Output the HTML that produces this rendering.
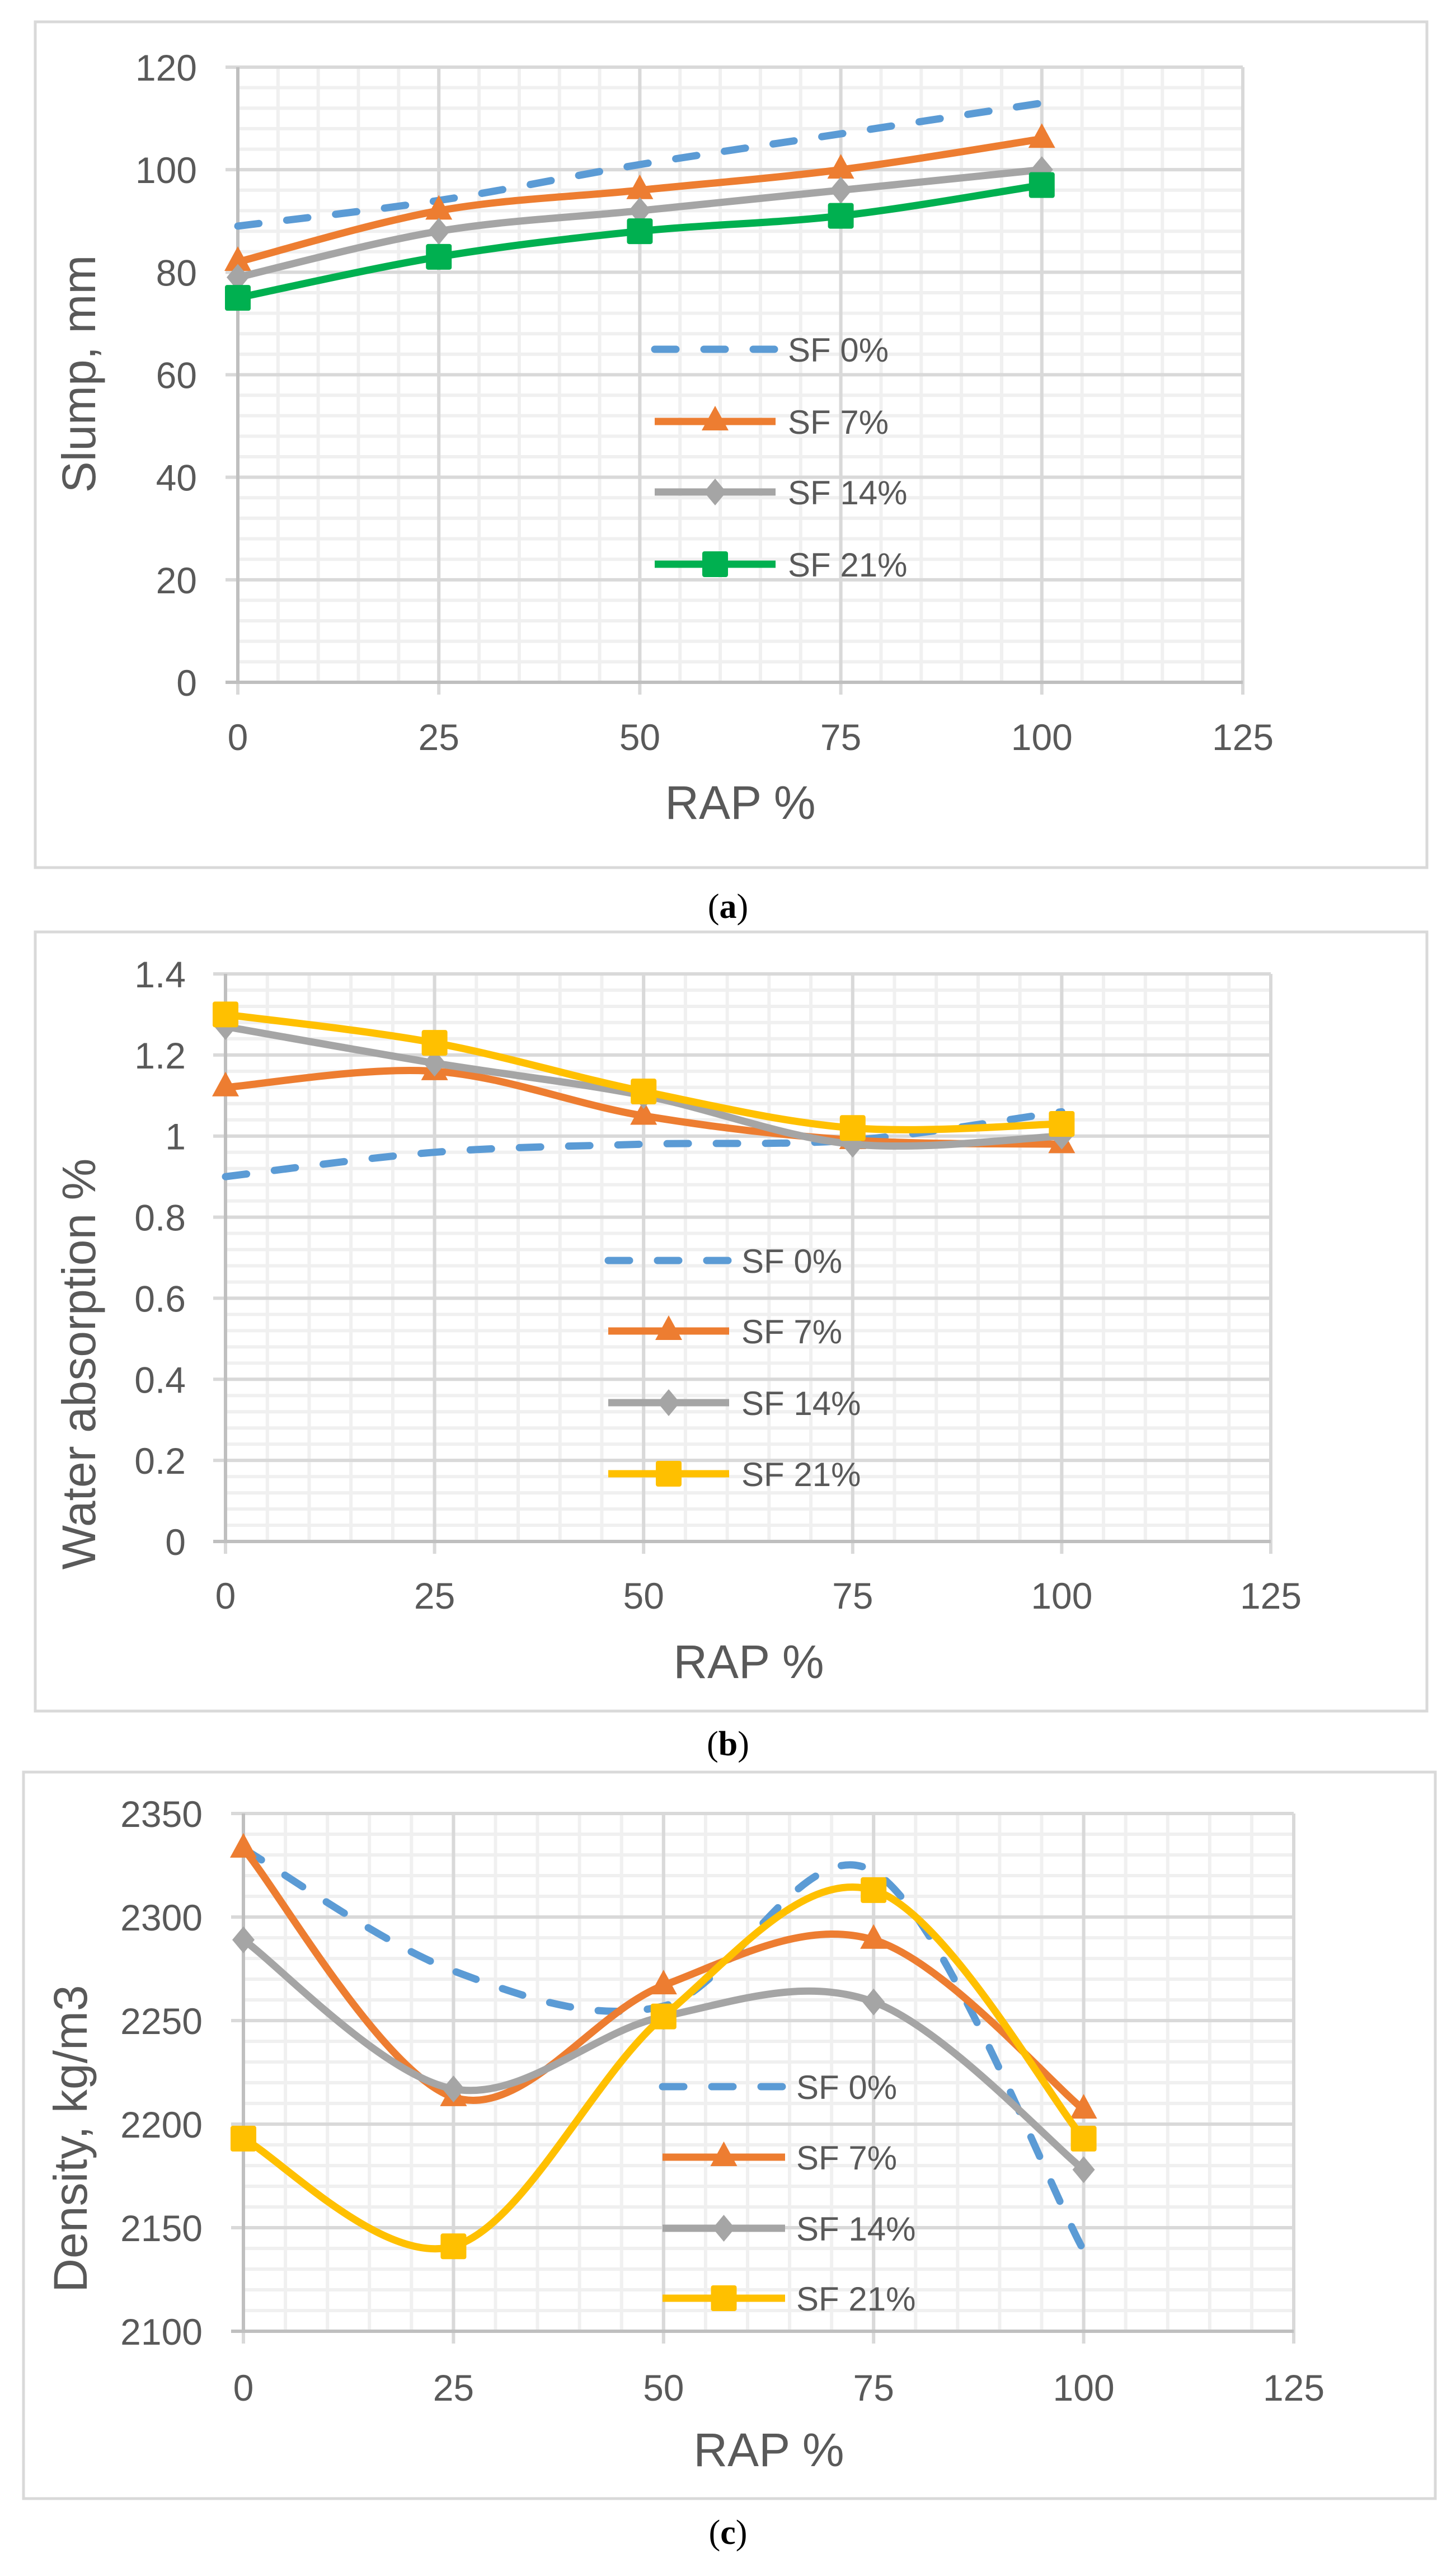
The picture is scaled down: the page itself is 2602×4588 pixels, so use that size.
<!DOCTYPE html>
<html><head><meta charset="utf-8"><style>
html,body{margin:0;padding:0;background:#fff}
svg{display:block}
text{font-family:"Liberation Sans",sans-serif;fill:#595959}
.cap{font-family:"Liberation Serif",serif;fill:#000;font-size:62px}
</style></head><body>
<svg id="fig" width="2602" height="4588" viewBox="0 0 2602 4588" xmlns="http://www.w3.org/2000/svg">
<text class="cap" x="1301" y="1640" text-anchor="middle">(<tspan font-weight="bold">a</tspan>)</text>
<text class="cap" x="1301" y="3136" text-anchor="middle">(<tspan font-weight="bold">b</tspan>)</text>
<text class="cap" x="1301" y="4545" text-anchor="middle">(<tspan font-weight="bold">c</tspan>)</text>
</svg>
<script>
const categories = [0, 25, 50, 75, 100];
const xTicks = [0, 25, 50, 75, 100, 125];
const seriesNames = ["SF 0%", "SF 7%", "SF 14%", "SF 21%"];

const slumpYTicks = [0, 20, 40, 60, 80, 100, 120];
const slumpSF0 = [89, 94, 101, 107, 113];
const slumpSF7 = [82, 92, 96, 100, 106];
const slumpSF14 = [79, 88, 92, 96, 100];
const slumpSF21 = [75, 83, 88, 91, 97];

const waterYTicks = [0, 0.2, 0.4, 0.6, 0.8, 1, 1.2, 1.4];
const waterSF0 = [0.90, 0.96, 0.98, 0.99, 1.06];
const waterSF7 = [1.12, 1.16, 1.05, 0.99, 0.98];
const waterSF14 = [1.27, 1.18, 1.10, 0.98, 1.00];
const waterSF21 = [1.30, 1.23, 1.11, 1.02, 1.03];

const densYTicks = [2100, 2150, 2200, 2250, 2300, 2350];
const densSF0 = [2333, 2274, 2257, 2322, 2139];
const densSF7 = [2333, 2213, 2267, 2289, 2207];
const densSF14 = [2289, 2217, 2252, 2259, 2178];
const densSF21 = [2193, 2141, 2252, 2313, 2193];

const NS = "http://www.w3.org/2000/svg";
const svg = document.getElementById("fig");
function mk(tag, attrs, parent){const e=document.createElementNS(NS,tag);for(const k in attrs)e.setAttribute(k,attrs[k]);(parent||svg).appendChild(e);return e;}

function smoothPath(pts){
  let d="M"+pts[0][0]+","+pts[0][1];
  for(let i=0;i<pts.length-1;i++){
    const p0=pts[i-1]||pts[i],p1=pts[i],p2=pts[i+1],p3=pts[i+2]||pts[i+1];
    const c1=[p1[0]+(p2[0]-p0[0])/6,p1[1]+(p2[1]-p0[1])/6];
    const c2=[p2[0]-(p3[0]-p1[0])/6,p2[1]-(p3[1]-p1[1])/6];
    d+=" C"+c1+" "+c2+" "+p2;
  }
  return d;
}
function marker(g,type,x,y,color){
  let m;
  if(type==="tri"){m=mk("path",{d:`M${x},${y-28} L${x+24},${y+16} L${x-24},${y+16} Z`,fill:color},g);}
  else if(type==="dia"){m=mk("path",{d:`M${x},${y-24} L${x+20},${y} L${x},${y+24} L${x-20},${y} Z`,fill:color},g);}
  else if(type==="sq"){m=mk("rect",{x:x-23,y:y-23,width:46,height:46,rx:4,fill:color},g);}
  if(m){
    
    
  }
}

function chart(cfg){
  const g=mk("g",{});
  
  
  const fr=mk("rect",{x:cfg.frame[0],y:cfg.frame[1],width:cfg.frame[2]-cfg.frame[0],height:cfg.frame[3]-cfg.frame[1],fill:"none",stroke:"#d9d9d9","stroke-width":5},g);
  
  
  const [X0,X1,Y0,Y1]=[cfg.x0,cfg.x1,cfg.yTop,cfg.yBot];
  const ymin=cfg.yTicks[0],ymax=cfg.yTicks[cfg.yTicks.length-1];
  const sx=v=>X0+(v-0)/(125-0)*(X1-X0);
  const sy=v=>Y1-(v-ymin)/(ymax-ymin)*(Y1-Y0);
  const grid=mk("g",{},g);
  
  
  const ystep=(cfg.yTicks[1]-cfg.yTicks[0])/cfg.ySub;
  for(let v=ymin;v<=ymax+1e-9;v+=ystep) mk("line",{x1:X0,x2:X1,y1:sy(v),y2:sy(v),stroke:"#f0f0f0","stroke-width":6},grid);
  for(let v=0;v<=125;v+=5) mk("line",{x1:sx(v),x2:sx(v),y1:Y0,y2:Y1,stroke:"#f0f0f0","stroke-width":6},grid);
  cfg.yTicks.forEach(v=>mk("line",{x1:X0-22,x2:X1,y1:sy(v),y2:sy(v),stroke:"#d9d9d9","stroke-width":6},grid));
  xTicks.forEach(v=>mk("line",{x1:sx(v),x2:sx(v),y1:Y0,y2:Y1+22,stroke:"#d9d9d9","stroke-width":6},grid));
  const ax=mk("line",{x1:X0,x2:X0,y1:Y0,y2:Y1,stroke:"#bfbfbf","stroke-width":6},g);
  
  
  const bx=mk("line",{x1:X0-22,x2:X1,y1:Y1,y2:Y1,stroke:"#bfbfbf","stroke-width":6},g);
  
  
  cfg.yTicks.forEach(v=>{
    const t=mk("text",{x:cfg.labR,y:sy(v)+24,"text-anchor":"end","font-size":66},g);
    t.textContent=String(v);
    
    
  });
  xTicks.forEach(v=>{
    const t=mk("text",{x:sx(v),y:cfg.xLabY+24,"text-anchor":"middle","font-size":66},g);
    t.textContent=String(v);
    
    
  });
  const xt=mk("text",{x:cfg.xTitle[0],y:cfg.xTitle[1]+30,"text-anchor":"middle","font-size":84},g);
  xt.textContent="RAP %";
  
  
  const yt=mk("text",{x:0,y:0,"text-anchor":"middle","font-size":84,transform:`translate(${cfg.yTitle[0]+30},${cfg.yTitle[1]}) rotate(-90)`},g);
  yt.textContent=cfg.yTitleText;
  
  
  const styles=[{c:"#5b9bd5",m:null,dash:"38 50"},{c:"#ed7d31",m:"tri"},{c:"#a5a5a5",m:"dia"},{c:cfg.c4,m:"sq"}];
  cfg.series.forEach((vals,i)=>{
    const s=styles[i];
    const sg=mk("g",{},g);
    
    
    const pts=categories.map((c,j)=>[sx(c),sy(vals[j])]);
    const p=mk("path",{d:cfg.smooth?smoothPath(pts):smoothPath(pts),fill:"none",stroke:s.c,"stroke-width":13,"stroke-linecap":s.dash?"round":"butt","stroke-linejoin":"round"},sg);
    if(s.dash)p.setAttribute("stroke-dasharray",s.dash);
    if(s.m) pts.forEach(pt=>marker(sg,s.m,pt[0],pt[1],s.c));
    // legend
    const ly=cfg.legY[i];
    const lg=mk("g",{},g);
    
    
    const ll=mk("line",{x1:cfg.legX[0],x2:cfg.legX[1],y1:ly,y2:ly,stroke:s.c,"stroke-width":13,"stroke-linecap":s.dash?"round":"butt"},lg);
    if(s.dash)ll.setAttribute("stroke-dasharray",s.dash);
    if(s.m)marker(lg,s.m,(cfg.legX[0]+cfg.legX[1])/2,ly,s.c);
    const lt=mk("text",{x:cfg.legX[2],y:ly+22,"font-size":60},lg);
    lt.textContent=seriesNames[i];
  });
}

chart({name:"slump-chart",frame:[63,39,2550,1550],x0:425,x1:2221,yTop:120,yBot:1219,yTicks:slumpYTicks,ySub:5,
  labR:352,xLabY:1316,xTitle:[1323,1433],yTitle:[140,668],yTitleText:"Slump, mm",
  series:[slumpSF0,slumpSF7,slumpSF14,slumpSF21],c4:"#00b050",legX:[1170,1386,1408],legY:[624,753,879,1008]});
chart({name:"water-absorption-chart",frame:[63,1665,2550,3057],x0:403,x1:2271,yTop:1740,yBot:2754,yTicks:waterYTicks,ySub:5,
  labR:332,xLabY:2850,xTitle:[1338,2968],yTitle:[140,2437],yTitleText:"Water absorption %",
  series:[waterSF0,waterSF7,waterSF14,waterSF21],c4:"#ffc000",legX:[1087,1303,1325],legY:[2252,2378,2506,2633]});
chart({name:"density-chart",frame:[42,3166,2565,4464],x0:435,x1:2312,yTop:3240,yBot:4165,yTicks:densYTicks,ySub:5,
  labR:362,xLabY:4265,xTitle:[1374,4376],yTitle:[125,3821],yTitleText:"Density, kg/m3",
  series:[densSF0,densSF7,densSF14,densSF21],c4:"#ffc000",legX:[1184,1403,1423],legY:[3728,3854,3981,4106]});
</script>
</body></html>
